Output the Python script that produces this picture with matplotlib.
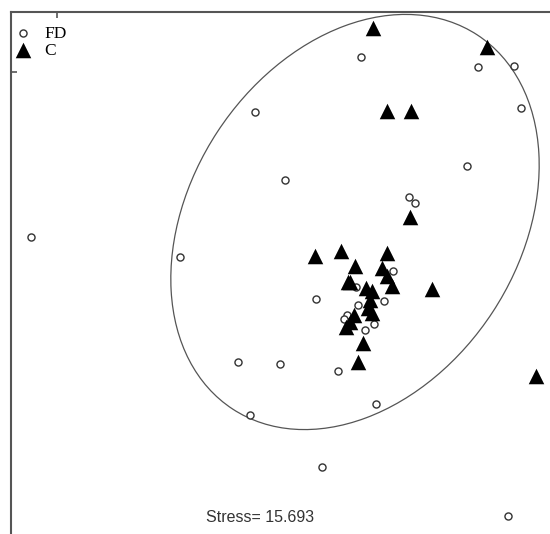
import matplotlib.pyplot as plt
from matplotlib.patches import Ellipse

# ---------- data (NMDS ordination scores) ----------
fd_x = [0.807, 1.983, 2.343, 2.407, -0.253, 1.867, 0.047, 1.29, 1.35,
        -1.0, -2.49, 1.133, 0.76, 0.363, 1.043, 0.78, 0.667, 0.64, 0.943,
        0.85, -0.42, 0.0, 0.583, -0.30, 0.96, 0.423, 2.283]
fd_y = [2.227, 2.127, 2.143, 1.717, 1.677, 1.137, 1.0, 0.827, 0.77,
        0.23, 0.433, 0.093, -0.073, -0.193, -0.213, -0.25, -0.35, -0.387,
        -0.437, -0.497, -0.817, -0.837, -0.91, -1.35, -1.243, -1.873, -2.357]

c_x = [0.933, 2.073, 1.073, 1.307, 1.30, 0.347, 0.613, 1.073, 0.75,
       1.023, 0.68, 0.70, 1.067, 1.123, 0.86, 0.917, 0.90, 0.883, 0.917,
       0.74, 0.70, 0.657, 0.827, 0.777, 1.517, 2.56]
c_y = [2.517, 2.333, 1.693, 1.693, 0.633, 0.243, 0.293, 0.267, 0.143,
       0.117, -0.017, -0.017, 0.037, -0.06, -0.083, -0.107, -0.20, -0.283,
       -0.333, -0.35, -0.417, -0.467, -0.627, -0.823, -0.087, -0.96]

stress = 15.693

# 95% ellipse (centre, axes, rotation)
ell_center = (0.75, 0.58)
ell_width = 4.47
ell_height = 3.29
ell_angle = 56.8

# ---------- figure ----------
fig = plt.figure(figsize=(5.5, 5.34), dpi=100)
ax = fig.add_axes([11 / 550, -11 / 534, 549 / 550, 533 / 534])

ax.scatter(fd_x, fd_y, s=26, facecolors='white', edgecolors='#333333',
           linewidths=1.0, marker='o', zorder=3, label='FD')
ax.scatter(c_x, c_y, s=125, c='black', marker='^', linewidths=0,
           zorder=4, label='C')

ell = Ellipse(ell_center, ell_width, ell_height, angle=ell_angle,
              fill=False, edgecolor='#555555', linewidth=0.9, zorder=2)
ax.add_patch(ell)

ax.set_xlim(-2.69, 2.8)
ax.set_ylim(-2.65, 2.68)

for side in ['right', 'bottom']:
    ax.spines[side].set_visible(False)
for side in ['left', 'top']:
    ax.spines[side].set_color('#555555')
    ax.spines[side].set_linewidth(1.5)

ax.xaxis.tick_top()
ax.set_xticks([-2.23])
ax.set_yticks([2.08])
ax.set_xticklabels([])
ax.set_yticklabels([])
ax.tick_params(direction='in', length=4, width=1.2, color='#555555')

ax.legend(loc='upper left', bbox_to_anchor=(-0.004, 0.984), frameon=False,
          prop={'family': 'Liberation Serif', 'size': 12.5},
          handletextpad=0.75, labelspacing=0.05, borderpad=0.3,
          handlelength=1.0, borderaxespad=0.0)

ax.text(0.4535, 0.052, f'Stress= {stress}', transform=ax.transAxes,
        ha='center', va='center', fontsize=11.5, family='Liberation Sans',
        color='#333333')

fig.savefig('out.png', dpi=100, facecolor='white')
